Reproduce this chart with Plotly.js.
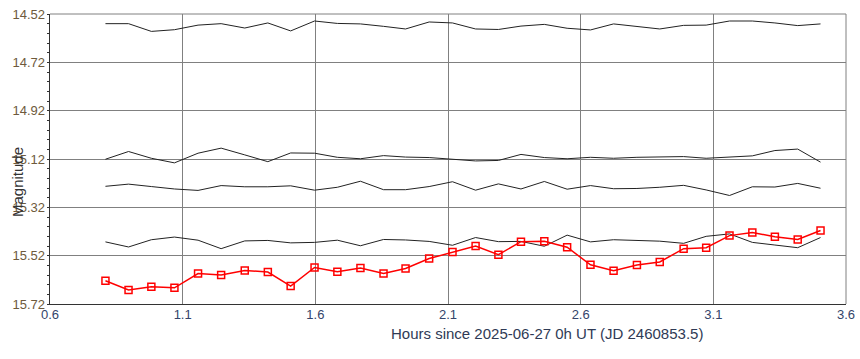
<!DOCTYPE html>
<html>
<head>
<meta charset="utf-8">
<script src="https://cdn.plot.ly/plotly-3.0.1.min.js"></script>
<style>html,body{margin:0;padding:0;background:#fff;}#chart{width:860px;height:359px;}</style>
</head>
<body>
<div id="chart"></div>
<script>
// Hours since 2025-06-27 0h UT
const hours = [0.809,0.896,0.982,1.069,1.158,1.245,1.334,1.421,1.507,1.597,1.683,1.770,1.857,1.940,2.029,2.117,2.204,2.290,2.375,2.463,2.549,2.637,2.724,2.812,2.898,2.988,3.073,3.161,3.247,3.332,3.418,3.504];

// Comparison / check stars (black lines)
const comp1 = [14.560,14.560,14.592,14.585,14.566,14.560,14.578,14.557,14.590,14.549,14.559,14.561,14.571,14.582,14.553,14.557,14.582,14.584,14.570,14.563,14.579,14.586,14.561,14.573,14.582,14.567,14.566,14.549,14.549,14.557,14.568,14.561];
const comp2 = [15.121,15.089,15.117,15.136,15.096,15.075,15.103,15.131,15.095,15.096,15.113,15.119,15.106,15.112,15.114,15.121,15.128,15.126,15.101,15.114,15.119,15.113,15.117,15.113,15.112,15.110,15.117,15.112,15.107,15.085,15.079,15.133];
const comp3 = [15.233,15.224,15.234,15.244,15.250,15.230,15.235,15.235,15.231,15.249,15.237,15.212,15.247,15.247,15.234,15.214,15.249,15.223,15.244,15.213,15.245,15.230,15.243,15.242,15.237,15.229,15.248,15.271,15.235,15.236,15.221,15.241];
const comp4 = [15.463,15.484,15.454,15.443,15.456,15.491,15.459,15.457,15.467,15.465,15.456,15.479,15.453,15.455,15.461,15.477,15.445,15.462,15.461,15.481,15.435,15.463,15.454,15.457,15.460,15.469,15.440,15.430,15.465,15.476,15.487,15.445];

// Target star (red with open squares)
const target = [15.624,15.662,15.649,15.653,15.594,15.600,15.581,15.588,15.646,15.569,15.587,15.571,15.594,15.573,15.532,15.505,15.480,15.516,15.462,15.460,15.485,15.558,15.582,15.559,15.546,15.491,15.487,15.437,15.424,15.442,15.453,15.416];

const xTicks = [0.6,1.1,1.6,2.1,2.6,3.1,3.6];
const yTicks = [14.52,14.72,14.92,15.12,15.32,15.52,15.72];
const xTitle = 'Hours since 2025-06-27 0h UT (JD 2460853.5)';
const yTitle = 'Magnitude';

const black = s => ({x: hours, y: s, type: 'scatter', mode: 'lines',
  line: {color: '#222', width: 1}, hoverinfo: 'skip', showlegend: false});

const traces = [black(comp1), black(comp2), black(comp3), black(comp4), {
  x: hours, y: target, type: 'scatter', mode: 'lines+markers',
  line: {color: '#ff0000', width: 1.5},
  marker: {symbol: 'square-open', size: 7, color: '#ff0000', line: {width: 1.5, color: '#ff0000'}},
  showlegend: false
}];

const font = 'Liberation Sans, Arial, sans-serif';

const layout = {
  width: 860, height: 359,
  margin: {l: 50, r: 14, t: 14, b: 55, pad: 0},
  paper_bgcolor: '#fff', plot_bgcolor: '#fff',
  showlegend: false,
  font: {family: font},
  xaxis: {
    range: [0.6, 3.6], tickvals: xTicks, ticktext: xTicks.map(v => v.toFixed(1)),
    showgrid: true, gridcolor: '#808080', gridwidth: 1,
    showline: true, linecolor: '#333', linewidth: 1.3,
    ticks: '', zeroline: false,
    tickfont: {family: font, size: 13, color: '#34446a'},
    ticklabelstandoff: -2
  },
  yaxis: {
    range: [15.72, 14.52], tickvals: yTicks, ticktext: yTicks.map(v => v.toFixed(2)),
    showgrid: true, gridcolor: '#808080', gridwidth: 1,
    showline: true, linecolor: '#333', linewidth: 1.3,
    ticks: 'outside', ticklen: 2, tickcolor: '#333', zeroline: false,
    minor: {dtick: 0.04, tick0: 14.52, ticks: 'outside', ticklen: 2, tickcolor: '#333', showgrid: false},
    tickfont: {family: font, size: 13, color: '#6e5a3c'},
    ticklabelstandoff: -1
  },
  shapes: [
    {type: 'line', xref: 'paper', yref: 'paper', x0: 0, x1: 1, y0: 1, y1: 1, line: {color: '#808080', width: 1}},
    {type: 'line', xref: 'paper', yref: 'paper', x0: 1, x1: 1, y0: 0, y1: 1, line: {color: '#808080', width: 1}}
  ],
  annotations: [
    {text: xTitle, xref: 'paper', yref: 'paper', x: 0.6244, y: -0.1, xanchor: 'center', yanchor: 'middle',
     showarrow: false, font: {family: font, size: 15, color: '#2f3a55'}},
    {text: yTitle, xref: 'paper', yref: 'paper', x: -0.0402, y: 0.4207, xanchor: 'center', yanchor: 'middle',
     textangle: -90, showarrow: false, font: {family: font, size: 15, color: '#333'}}
  ]
};

Plotly.newPlot('chart', traces, layout, {staticPlot: true, displayModeBar: false});
</script>
</body>
</html>
